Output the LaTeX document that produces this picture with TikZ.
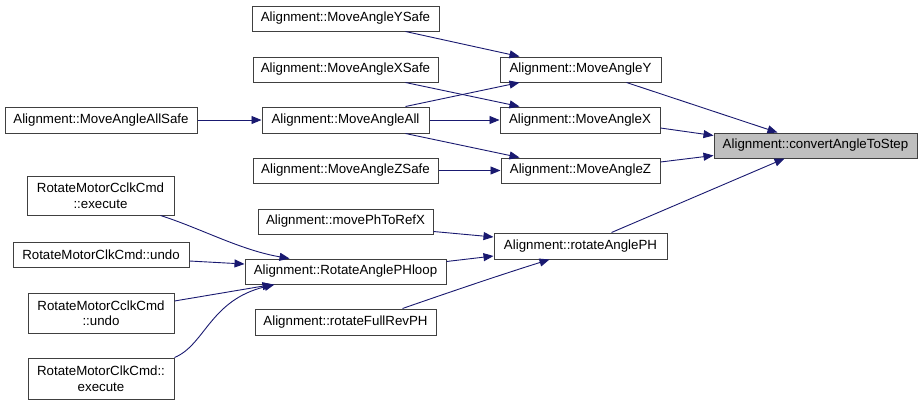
\documentclass[tikz,border=0pt]{standalone}
\usepackage{fontspec}
\setmainfont{Liberation Sans}
\usetikzlibrary{arrows.meta}
\definecolor{edgeblue}{HTML}{191970}
\definecolor{boxgray}{HTML}{BFBFBF}
\begin{document}
\begin{tikzpicture}[x=1pt, y=-1pt,
  fn/.style={draw=black!75, line width=1pt, fill=white, inner sep=0pt,
    minimum height=25pt, font=\fontsize{13.3}{15.5}\selectfont, align=center},
  call/.style={draw=edgeblue, line width=0.9pt, -{Triangle[length=10pt, width=8pt]}}]
  \useasboundingbox (0,0) rectangle (923,405);
  % callee
  \node[fn, fill=boxgray, minimum width=203pt] (conv) at (815.5,145.5) {Alignment::convertAngleToStep};
  % direct callers
  \node[fn, minimum width=161pt] (angy) at (580.5,69.5) {Alignment::MoveAngleY};
  \node[fn, minimum width=160pt, minimum height=26pt] (angx) at (580,120) {Alignment::MoveAngleX};
  \node[fn, minimum width=159pt] (angz) at (580.5,170.5) {Alignment::MoveAngleZ};
  \node[fn, minimum width=173pt, minimum height=26pt] (rotph) at (580.5,246) {Alignment::rotateAnglePH};
  % second column
  \node[fn, minimum width=187pt] (ysafe) at (345.5,18.5) {Alignment::MoveAngleYSafe};
  \node[fn, minimum width=185pt] (xsafe) at (345.5,69.5) {Alignment::MoveAngleXSafe};
  \node[fn, minimum width=167pt, minimum height=26pt] (all) at (345.5,120) {Alignment::MoveAngleAll};
  \node[fn, minimum width=185pt] (zsafe) at (345.5,170.5) {Alignment::MoveAngleZSafe};
  \node[fn, minimum width=175pt] (tophref) at (345.5,221.5) {Alignment::movePhToRefX};
  \node[fn, minimum width=201pt] (loop) at (345.5,271.5) {Alignment::RotateAnglePHloop};
  \node[fn, minimum width=181pt, minimum height=26pt] (fullrev) at (345.5,322) {Alignment::rotateFullRevPH};
  % outer column
  \node[fn, minimum width=192pt, minimum height=26pt] (allsafe) at (101,120) {Alignment::MoveAngleAllSafe};
  \node[fn, minimum width=147pt, minimum height=39pt] (ccexec) at (100.5,195.5) {RotateMotorCclkCmd\\::execute};
  \node[fn, minimum width=176pt] (clkundo) at (101,254.5) {RotateMotorClkCmd::undo};
  \node[fn, minimum width=146pt, minimum height=40pt] (ccundo) at (101,313) {RotateMotorCclkCmd\\::undo};
  \node[fn, minimum width=146pt, minimum height=41pt] (clkexec) at (101,378.5) {RotateMotorClkCmd::\\execute};
  % edges into convertAngleToStep
  \draw[call] ([xshift=-35pt]angy.south east) -- ([xshift=64pt]conv.north west);
  \draw[call] ([yshift=-8pt]angx.east) -- ([yshift=10pt]conv.west);
  \draw[call] ([yshift=8.5pt]angz.east) -- ([yshift=-10pt]conv.west);
  \draw[call] ([xshift=-56pt]rotph.north east) -- ([xshift=71pt]conv.south west);
  % edges into MoveAngleX/Y/Z
  \draw[call] ([xshift=-34pt]ysafe.south east) -- ([xshift=20pt]angy.north west);
  \draw[call] ([xshift=-33pt]xsafe.south east) -- ([xshift=20pt]angx.north west);
  \draw[call] ([xshift=-24pt]all.north east) -- ([xshift=20pt]angy.south west);
  \draw[call] (all.east) -- (angx.west);
  \draw[call] ([xshift=-24pt]all.south east) -- ([xshift=19pt]angz.north west);
  \draw[call] (zsafe.east) -- (angz.west);
  \draw[call] (allsafe.east) -- (all.west);
  % edges into rotateAnglePH
  \draw[call] ([yshift=-10pt]tophref.east) -- ([yshift=9pt]rotph.west);
  \draw[call] ([yshift=10pt]loop.east) -- ([yshift=-10pt]rotph.west);
  \draw[call] ([xshift=-34pt]fullrev.north east) .. controls (450,292) and (500,275) .. ([xshift=56pt]rotph.south west);
  % edges into RotateAnglePHloop
  \draw[call] ([xshift=-14pt]ccexec.south east) .. controls (200,228) and (240,250) .. ([xshift=45pt]loop.north west);
  \draw[call] ([yshift=-6.5pt]clkundo.east) -- ([yshift=7.5pt]loop.west);
  \draw[call] ([yshift=12pt]ccundo.east) -- ([xshift=28pt]loop.south west);
  \draw[call] (clkexec.north east) .. controls (205,345) and (210,300) .. ([xshift=30pt]loop.south west);
\end{tikzpicture}
\end{document}
